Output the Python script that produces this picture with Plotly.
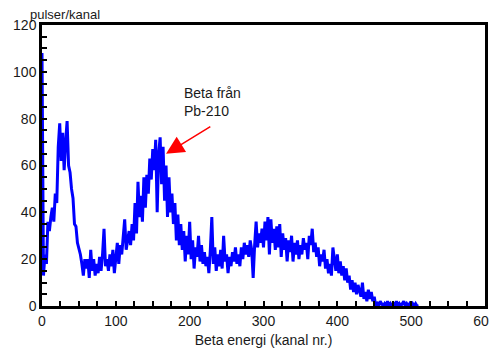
import plotly.graph_objects as go

channels = list(range(0, 512, 2))
counts = [
    108, 13, 22, 18, 36, 32, 38, 42, 36, 48,
    44, 68, 78, 62, 74, 58, 70, 79, 60, 57,
    50, 46, 35, 34, 27, 25, 22, 18, 13, 20,
    16, 20, 12, 24, 15, 20, 13, 18, 14, 21,
    15, 22, 33, 17, 20, 15, 22, 17, 24, 14,
    21, 27, 18, 26, 22, 30, 37, 24, 29, 32,
    26, 35, 28, 44, 31, 53, 38, 47, 36, 55,
    42, 56, 48, 63, 54, 67, 58, 71, 40, 65,
    72, 52, 68, 45, 60, 38, 55, 40, 48, 35,
    44, 28, 39, 26, 35, 24, 32, 19, 30, 22,
    36, 20, 28, 16, 25, 21, 30, 19, 26, 18,
    23, 17, 21, 14, 24, 38, 18, 25, 15, 22,
    17, 24, 16, 30, 19, 22, 14, 21, 17, 23,
    19, 25, 18, 22, 17, 25, 20, 27, 22, 26,
    21, 28, 24, 12, 26, 36, 25, 31, 27, 33,
    25, 36, 28, 38, 22, 37, 27, 33, 24, 34,
    25, 35, 21, 31, 24, 29, 19, 28, 23, 30,
    19, 27, 22, 28, 20, 26, 22, 29, 24, 27,
    20, 30, 26, 33, 23, 27, 21, 25, 17, 22,
    19, 24, 16, 20, 14, 18, 13, 25, 20, 15,
    22, 14, 19, 13, 17, 11, 16, 10, 13, 7,
    11, 6, 10, 5, 9, 6, 4, 10, 3, 6,
    2, 7, 3, 6, 2, 4, 0, 1, 0, 2,
    1, 0, 1, 0, 2, 0, 1, 0, 1, 0,
    2, 0, 1, 0, 1, 2, 0, 1, 0, 1,
    0, 1, 0, 1, 0, 0,
]

x_ticks = [0, 100, 200, 300, 400, 500, 600]
y_ticks = [0, 20, 40, 60, 80, 100, 120]

fig = go.Figure()
fig.add_trace(go.Scatter(
    x=channels, y=counts, mode="lines",
    line=dict(color="#0000FF", width=3),
    showlegend=False, hoverinfo="skip",
))

font = dict(family="Liberation Sans, Arial, sans-serif", size=14, color="#1a1a1a")
small_font = dict(family="Liberation Sans, Arial, sans-serif", size=13, color="#1a1a1a")

fig.update_xaxes(
    range=[0, 600], tickvals=x_ticks, ticks="inside", ticklen=5, tickwidth=1.5,
    tickcolor="black", showline=True, linecolor="black", linewidth=2.5, mirror=True,
    showgrid=False, zeroline=False, tickfont=font, automargin=False,
    minor=dict(dtick=25, ticks="inside", ticklen=5, tickwidth=1.5, tickcolor="black"),
    title=dict(text="Beta energi (kanal nr.)", font=font, standoff=8),
)
fig.update_yaxes(
    range=[0, 120], tickvals=y_ticks, ticks="inside", ticklen=5, tickwidth=1.5,
    tickcolor="black", showline=True, linecolor="black", linewidth=2.5, mirror=True,
    showgrid=False, zeroline=False, tickfont=font, automargin=False,
    minor=dict(dtick=5, ticks="inside", ticklen=5, tickwidth=1.5, tickcolor="black"),
)

fig.add_annotation(
    x=168, y=65, ax=230, ay=77, xref="x", yref="y", axref="x", ayref="y",
    text="", showarrow=True, arrowhead=2, arrowsize=2.4, arrowwidth=1.5,
    arrowcolor="#FF0000",
)
fig.add_annotation(
    x=190, y=87, xref="x", yref="y", text="Beta från<br>Pb-210",
    showarrow=False, xanchor="left", yanchor="middle", align="left", font=font,
)
fig.add_annotation(
    x=-0.032, y=1.0, xref="paper", yref="paper", text="pulser/kanal",
    showarrow=False, xanchor="left", yanchor="bottom", font=small_font, yshift=1,
)

# the page body adds an 8px offset, so the figure is sized to fit the window
fig.update_layout(
    width=489, height=341,
    margin=dict(l=34, r=12, t=17, b=43, autoexpand=False),
    plot_bgcolor="white", paper_bgcolor="white",
)

fig.write_html("out.html")
